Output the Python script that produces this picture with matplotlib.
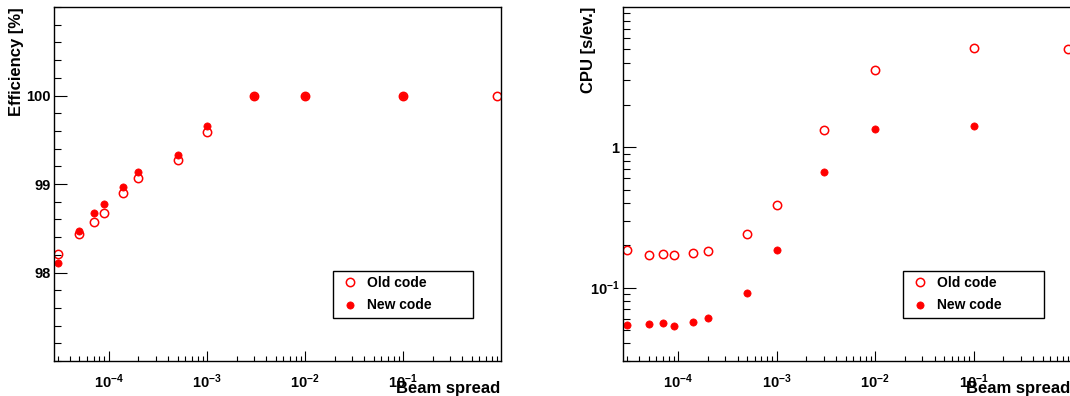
import math
import matplotlib
matplotlib.use("Agg")
import matplotlib.pyplot as plt
from matplotlib.ticker import LogLocator, FixedLocator, MultipleLocator, FuncFormatter, NullFormatter

plt.rcParams["font.family"] = ["Liberation Sans", "DejaVu Sans"]
plt.rcParams["font.weight"] = "bold"
plt.rcParams["mathtext.fontset"] = "custom"
plt.rcParams["mathtext.bf"] = "Liberation Sans:bold"
plt.rcParams["mathtext.rm"] = "Liberation Sans:bold"
plt.rcParams["mathtext.default"] = "bf"

# Beam spread values
spread = [3e-5, 5e-5, 7e-5, 9e-5, 1.4e-4, 2e-4, 5e-4, 1e-3, 3e-3, 1e-2, 1e-1, 0.9]

# Efficiency [%]
eff_old = [98.21, 98.44, 98.57, 98.675, 98.90, 99.07, 99.27, 99.59, 100.0, 100.0, 100.0, 100.0]
eff_new = [98.11, 98.47, 98.67, 98.77, 98.965, 99.13, 99.33, 99.66, 100.0, 100.0, 100.0]

# CPU [s/ev.]
cpu_old = [0.184, 0.170, 0.174, 0.171, 0.177, 0.181, 0.240, 0.391, 1.32, 3.54, 5.11, 5.03]
cpu_new = [0.0539, 0.0551, 0.0563, 0.0535, 0.0573, 0.0604, 0.091, 0.186, 0.668, 1.34, 1.42]

red = "#ff0000"
W, H = 1070, 396
fig = plt.figure(figsize=(W / 100, H / 100), dpi=100)

ax1 = fig.add_axes([54 / W, 1 - 361 / H, 447 / W, 354 / H])
ax2 = fig.add_axes([623 / W, 1 - 361 / H, 449 / W, 354 / H])


def pow10(v, pos):
    if abs(v - 1) < 1e-9:
        return "1"
    e = int(round(math.log10(v)))
    return r"$10^{%d}$" % e


for ax, old, new in [(ax1, eff_old, eff_new), (ax2, cpu_old, cpu_new)]:
    ax.plot(spread[:len(old)], old, ls="none", marker="o", ms=6, mfc="none",
            mec=red, mew=1.1, label="Old code")
    ax.plot(spread[:len(new)], new, ls="none", marker="o", ms=5.2, mfc=red,
            mec=red, mew=0.5, label="New code")
    ax.set_xscale("log")
    ax.set_xlim(2.75e-5, 0.995)
    ax.xaxis.set_major_locator(LogLocator(base=10, numticks=10))
    ax.xaxis.set_minor_locator(LogLocator(base=10, subs=range(2, 10), numticks=20))
    ax.xaxis.set_major_formatter(FuncFormatter(pow10))
    ax.xaxis.set_minor_formatter(NullFormatter())
    for s in ax.spines.values():
        s.set_linewidth(1.0)
    ax.tick_params(which="both", direction="in", top=False, right=False,
                   labelsize=10.5, width=0.8)
    ax.tick_params(axis="x", which="major", length=7.2, pad=8)
    ax.tick_params(axis="x", which="minor", length=3.3)
    ax.tick_params(axis="y", which="major", length=9.5, pad=2.5)
    ax.tick_params(axis="y", which="minor", length=5)
    leg = ax.legend(loc="lower left", bbox_to_anchor=(0.624, 0.1215, 0.313, 0.127),
                    mode="expand", borderaxespad=0, fancybox=False, framealpha=1,
                    edgecolor="black", handlelength=1.6,
                    handletextpad=0.45, borderpad=0.4, labelspacing=0.6,
                    prop={"weight": "bold", "size": 10})
    leg.get_frame().set_linewidth(1.0)

# Efficiency panel
ax1.set_ylim(97, 101)
ax1.yaxis.set_major_locator(FixedLocator([98, 99, 100]))
ax1.yaxis.set_minor_locator(MultipleLocator(0.2))

# CPU panel
ax2.set_yscale("log")
ax2.set_ylim(0.03, 10)
ax2.yaxis.set_major_locator(FixedLocator([0.1, 1]))
ax2.yaxis.set_minor_locator(LogLocator(base=10, subs=range(2, 10), numticks=20))
ax2.yaxis.set_major_formatter(FuncFormatter(pow10))
ax2.yaxis.set_minor_formatter(NullFormatter())

# axis titles, ROOT style (right / top aligned)
fig.text(500 / W, 1 - 381 / H, "Beam spread", ha="right", va="top", fontsize=12, weight="bold")
fig.text(1070 / W, 1 - 381 / H, "Beam spread", ha="right", va="top", fontsize=12, weight="bold")
fig.text(17 / W, 1 - 7 / H, "Efficiency [%]", rotation=90, ha="center", va="top", fontsize=12, weight="bold")
fig.text(588 / W, 1 - 7 / H, "CPU [s/ev.]", rotation=90, ha="center", va="top", fontsize=12, weight="bold")

fig.savefig("out.png", dpi=100)
